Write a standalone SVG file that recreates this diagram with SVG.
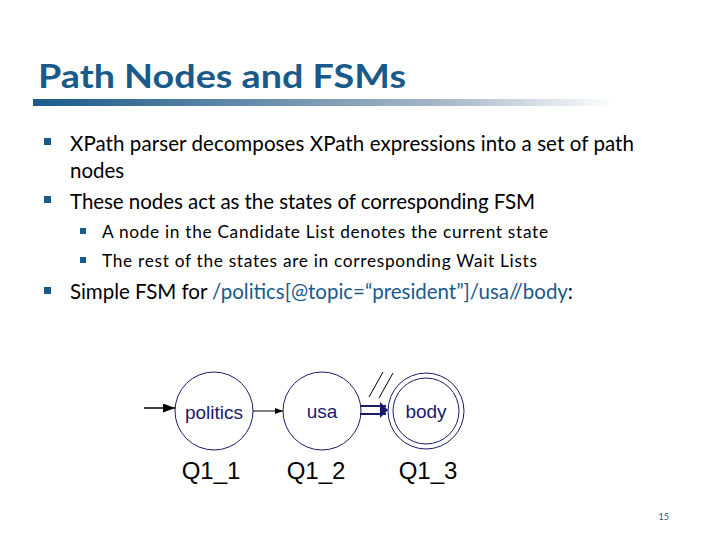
<svg xmlns="http://www.w3.org/2000/svg" width="720" height="540" viewBox="0 0 720 540">
<defs>
<linearGradient id="g" x1="0" x2="1"><stop offset="0" stop-color="#1a5a8a"/><stop offset="0.6" stop-color="#a8b8c8"/><stop offset="0.85" stop-color="#ffffff"/></linearGradient>
<marker id="a" markerWidth="8" markerHeight="6" refX="8" refY="3" orient="auto"><path d="M0,0L8,3L0,6z" fill="#000"/></marker>
</defs>
<style>
.t{font-family:Lato,"Open Sans",sans-serif;font-size:20.5px;fill:#000}
.s{font-family:Lato,"Open Sans",sans-serif;font-size:17.3px;fill:#000}
.blu{fill:#1a5a8a}
.n{fill:none;stroke:#1a1a6a;stroke-width:1}
.l{font-family:"Liberation Sans",Arial,sans-serif;font-size:19px;fill:#1a1a6a;text-anchor:middle}
.q{font-family:"Liberation Sans",Arial,sans-serif;font-size:24px;fill:#000;text-anchor:middle}
</style>
<text x="38" y="88" font-family="Lato,'Open Sans',sans-serif" font-weight="bold" font-size="32" fill="#1a5a8a" textLength="368" lengthAdjust="spacingAndGlyphs">Path Nodes and FSMs</text>
<rect x="33" y="99" width="687" height="7" fill="url(#g)"/>
<g fill="#1a5a8a">
<rect x="44" y="138" width="7" height="7"/><rect x="44" y="196" width="7" height="7"/>
<rect x="80" y="228" width="6" height="6"/><rect x="80" y="257" width="6" height="6"/>
<rect x="44" y="287" width="7" height="7"/>
</g>
<text class="t" x="70" y="151" textLength="564">XPath parser decomposes XPath expressions into a set of path</text>
<text class="t" x="70" y="178">nodes</text>
<text class="t" x="70" y="209" textLength="465">These nodes act as the states of corresponding FSM</text>
<text class="s" x="102" y="238" textLength="446">A node in the Candidate List denotes the current state</text>
<text class="s" x="102" y="267" textLength="435">The rest of the states are in corresponding Wait Lists</text>
<text class="t" x="70" y="299" textLength="503">Simple FSM for <tspan class="blu">/politics[@topic=“president”]/usa//body</tspan>:</text>
<g id="q1"><circle class="n" cx="214" cy="411" r="39"/><text class="l" x="214" y="419">politics</text><text class="q" x="211" y="479">Q1_1</text></g>
<g id="q2"><circle class="n" cx="322" cy="411" r="39"/><text class="l" x="322" y="418">usa</text><text class="q" x="316" y="479">Q1_2</text></g>
<g id="q3"><circle class="n" cx="426" cy="411" r="38"/><circle class="n" cx="426" cy="411" r="33"/><text class="l" x="426" y="418">body</text><text class="q" x="428" y="479">Q1_3</text></g>
<g id="edges" stroke="#000">
<line x1="144" y1="408" x2="175" y2="408" stroke-width="1.5" marker-end="url(#a)"/>
<line x1="253" y1="411" x2="283" y2="411" marker-end="url(#a)"/>
<line x1="360" y1="406" x2="386" y2="406" stroke="#1a1a6a" stroke-width="2"/>
<line x1="360" y1="414" x2="386" y2="414" stroke="#1a1a6a" stroke-width="2"/>
<path d="M380,402L388,410L380,418z" fill="#1a1a6a" stroke="none"/>
<line x1="369" y1="397" x2="383" y2="372" stroke-width="1"/>
<line x1="379" y1="398" x2="393" y2="373" stroke-width="1"/>
</g>
<text x="669" y="520" font-family="Lato,sans-serif" font-size="9" fill="#1a5a8a" text-anchor="end">15</text>
</svg>
